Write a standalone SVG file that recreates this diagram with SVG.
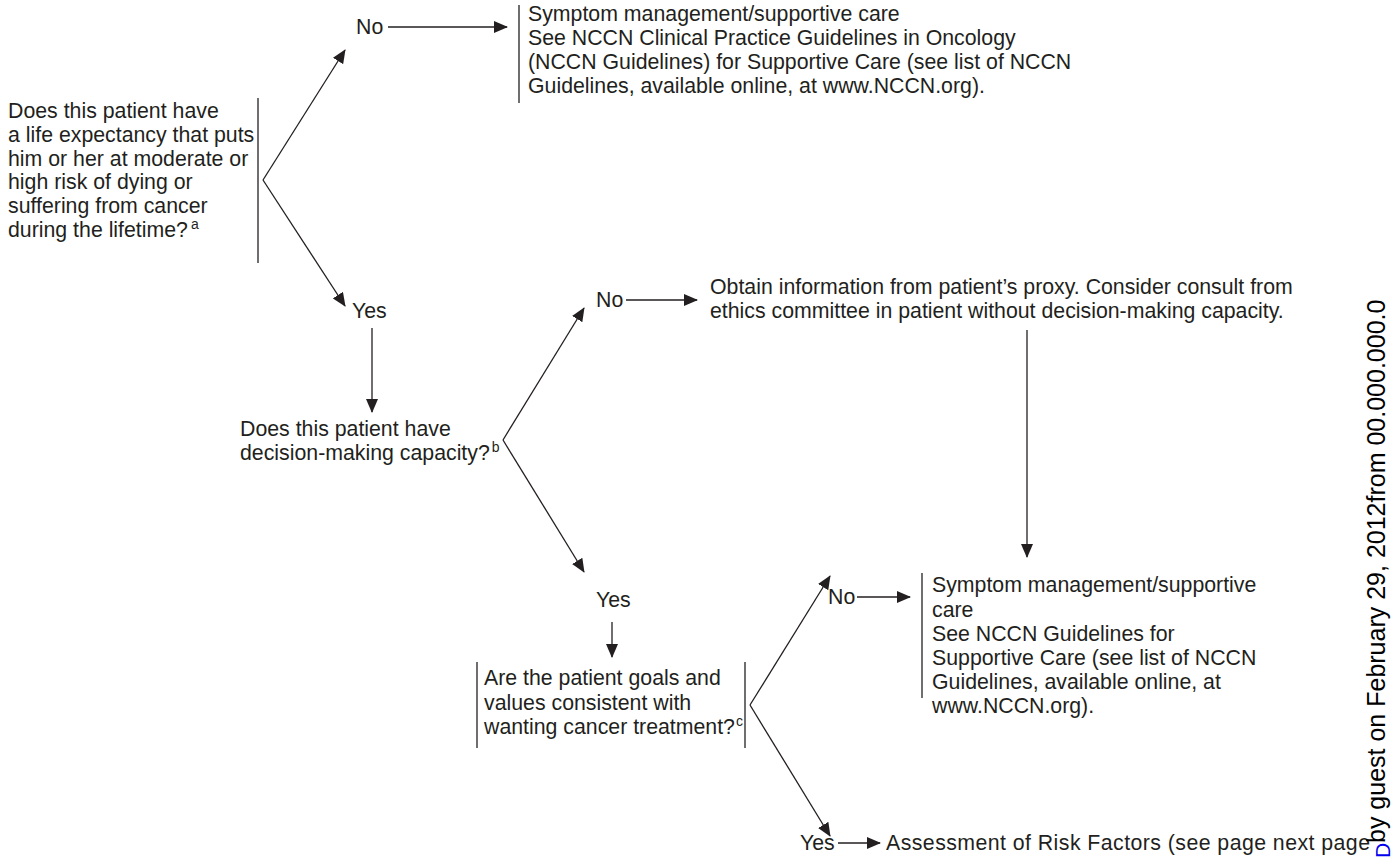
<svg xmlns="http://www.w3.org/2000/svg" width="1392" height="857" viewBox="0 0 1392 857">
<style>
text{font-family:"Liberation Sans",Arial,sans-serif;font-size:21.3px;fill:#231f20}
.sup{font-size:14px}
.ln{stroke:#231f20;stroke-width:1.3;fill:none}
.bar{stroke:#231f20;stroke-width:1.3}
</style>
<defs>
<marker id="ah" markerWidth="14" markerHeight="12" refX="13" refY="6" orient="auto" markerUnits="userSpaceOnUse">
<path d="M0,0 L14,6 L0,12 Z" fill="#231f20"/>
</marker>
</defs>
<rect width="1392" height="857" fill="#fff"/>
<g id="q1">
<text x="8" y="118">Does this patient have</text>
<text x="8" y="142">a life expectancy that puts</text>
<text x="8" y="166">him or her at moderate or</text>
<text x="8" y="189">high risk of dying or</text>
<text x="8" y="213">suffering from cancer</text>
<text x="8" y="237">during the lifetime?<tspan class="sup" dx="3" dy="-8">a</tspan></text>
<line class="bar" x1="258" y1="98" x2="258" y2="263"/>
</g>
<g id="no1"><text x="356" y="34">No</text></g>
<g id="care1">
<line class="bar" x1="519" y1="5" x2="519" y2="103"/>
<text x="528" y="21">Symptom management/supportive care</text>
<text x="528" y="45">See NCCN Clinical Practice Guidelines in Oncology</text>
<text x="528" y="69">(NCCN Guidelines) for Supportive Care (see list of NCCN</text>
<text x="528" y="93">Guidelines, available online, at www.NCCN.org).</text>
</g>
<g id="yes1"><text x="352" y="318">Yes</text></g>
<g id="q2">
<text x="240" y="436">Does this patient have</text>
<text x="240" y="460">decision-making capacity?<tspan class="sup" dx="2" dy="-8">b</tspan></text>
</g>
<g id="no2"><text x="596" y="307">No</text></g>
<g id="proxy">
<text x="710" y="294">Obtain information from patient’s proxy. Consider consult from</text>
<text x="710" y="318">ethics committee in patient without decision-making capacity.</text>
</g>
<g id="yes2"><text x="596" y="607">Yes</text></g>
<g id="q3">
<line class="bar" x1="477" y1="662" x2="477" y2="748"/>
<line class="bar" x1="745" y1="662" x2="745" y2="748"/>
<text x="484" y="685">Are the patient goals and</text>
<text x="484" y="710">values consistent with</text>
<text x="484" y="734">wanting cancer treatment?<tspan class="sup" dx="1" dy="-8">c</tspan></text>
</g>
<g id="no3"><text x="828" y="604">No</text></g>
<g id="care2">
<line class="bar" x1="922" y1="573" x2="922" y2="698"/>
<text x="932" y="592">Symptom management/supportive</text>
<text x="932" y="617">care</text>
<text x="932" y="641">See NCCN Guidelines for</text>
<text x="932" y="665">Supportive Care (see list of NCCN</text>
<text x="932" y="689">Guidelines, available online, at</text>
<text x="932" y="713">www.NCCN.org).</text>
</g>
<g id="yes3"><text x="800" y="850">Yes</text></g>
<g id="risk"><text x="886" y="850" textLength="484">Assessment of Risk Factors (see page next page</text></g>
<g id="connectors">
<line class="ln" x1="388" y1="27" x2="507" y2="27" marker-end="url(#ah)"/>
<line class="ln" x1="263" y1="180" x2="345" y2="50" marker-end="url(#ah)"/>
<line class="ln" x1="263" y1="180" x2="345" y2="306" marker-end="url(#ah)"/>
<line class="ln" x1="372" y1="328" x2="372" y2="412" marker-end="url(#ah)"/>
<line class="ln" x1="503" y1="440" x2="584" y2="308" marker-end="url(#ah)"/>
<line class="ln" x1="503" y1="440" x2="584" y2="572" marker-end="url(#ah)"/>
<line class="ln" x1="626" y1="300" x2="697" y2="300" marker-end="url(#ah)"/>
<line class="ln" x1="1027" y1="330" x2="1027" y2="557" marker-end="url(#ah)"/>
<line class="ln" x1="612" y1="622" x2="612" y2="657" marker-end="url(#ah)"/>
<line class="ln" x1="750" y1="705" x2="830" y2="576" marker-end="url(#ah)"/>
<line class="ln" x1="750" y1="705" x2="830" y2="836" marker-end="url(#ah)"/>
<line class="ln" x1="857" y1="597" x2="910" y2="597" marker-end="url(#ah)"/>
<line class="ln" x1="838" y1="843" x2="880" y2="843" marker-end="url(#ah)"/>
</g>
<g id="watermark">
<text transform="translate(1385,843) rotate(-90)" style="font-size:25px;fill:#000">by guest on February 29, 2012from 00.000.000.0</text>
<text transform="translate(1390,858) rotate(-90)" style="font-size:21px;fill:#0000ee;text-decoration:underline">D</text>
</g>
</svg>
